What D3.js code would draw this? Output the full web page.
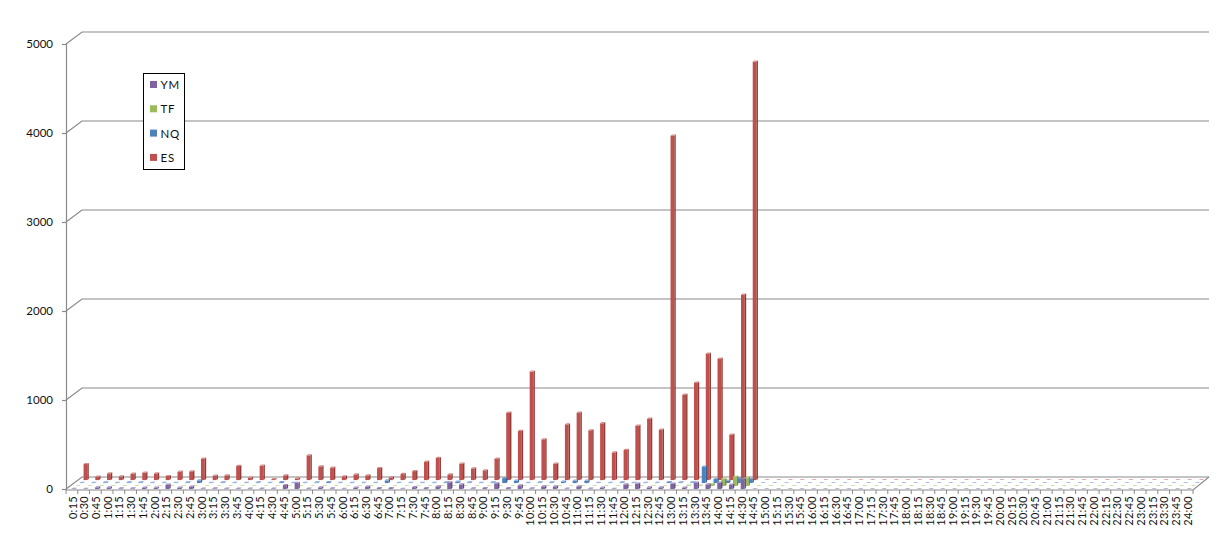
<!DOCTYPE html>
<html><head><meta charset="utf-8">
<script src="https://cdnjs.cloudflare.com/ajax/libs/d3/7.8.5/d3.min.js"></script>
<style>html,body{margin:0;padding:0;background:#fff}svg{display:block}text{font-family:Lato,"Open Sans",sans-serif;fill:#111}</style>
</head><body><svg id="c" width="1230" height="546"></svg>
<script>
const categories=["0:15","0:30","0:45","1:00","1:15","1:30","1:45","2:00","2:15","2:30","2:45","3:00","3:15","3:30","3:45","4:00","4:15","4:30","4:45","5:00","5:15","5:30","5:45","6:00","6:15","6:30","6:45","7:00","7:15","7:30","7:45","8:00","8:15","8:30","8:45","9:00","9:15","9:30","9:45","10:00","10:15","10:30","10:45","11:00","11:15","11:30","11:45","12:00","12:15","12:30","12:45","13:00","13:15","13:30","13:45","14:00","14:15","14:30","14:45","15:00","15:15","15:30","15:45","16:00","16:15","16:30","16:45","17:00","17:15","17:30","17:45","18:00","18:15","18:30","18:45","19:00","19:15","19:30","19:45","20:00","20:15","20:30","20:45","21:00","21:15","21:30","21:45","22:00","22:15","22:30","22:45","23:00","23:15","23:30","23:45","24:00"];
const ES=[180,38,75,41,71,83,75,45,94,98,240,49,53,158,26,161,11,53,19,278,154,139,41,64,53,135,30,68,101,206,248,64,184,131,109,240,758,551,1219,458,184,626,758,559,638,311,338,611,690,566,3870,960,1095,1421,1365,511,2084,4702,0,0,0,0,0,0,0,0,0,0,0,0,0,0,0,0,0,0,0,0,0,0,0,0,0,0,0,0,0,0,0,0,0,0,0,0,0,0];
const NQ=[3,3,7,3,7,7,3,3,3,7,30,3,7,3,3,7,3,11,3,3,7,11,3,3,3,3,30,3,3,3,3,7,15,7,3,7,56,26,3,7,7,15,26,26,3,3,7,3,3,3,11,7,7,185,45,26,56,45,0,0,0,0,0,0,0,0,0,0,0,0,0,0,0,0,0,0,0,0,0,0,0,0,0,0,0,0,0,0,0,0,0,0,0,0,0,0];
const TF=[0,0,0,0,0,0,0,0,0,0,0,0,0,0,0,0,0,0,0,0,0,0,0,0,0,0,0,0,0,0,0,0,0,0,0,0,0,0,0,0,0,0,0,0,0,0,0,0,0,0,0,0,5,5,22,79,105,94,0,0,0,0,0,0,0,0,0,0,0,0,0,0,0,0,0,0,0,0,0,0,0,0,0,0,0,0,0,0,0,0,0,0,0,0,0,0];
const YM=[3,3,19,19,7,7,15,15,49,15,26,5,7,5,5,5,5,5,45,70,5,19,7,3,15,26,11,11,3,22,11,30,75,52,7,11,64,11,41,7,30,30,4,30,4,15,3,52,60,19,19,60,15,71,52,71,49,110,0,0,0,0,0,0,0,0,0,0,0,0,0,0,0,0,0,0,0,0,0,0,0,0,0,0,0,0,0,0,0,0,0,0,0,0,0,0];
const seriesNames=["YM","TF","NQ","ES"];
const seriesValues=[YM,TF,NQ,ES];
const seriesColors=["#8064A2","#9BBB59","#4F81BD","#C0504D"];
const sideColors=["#5F4A7A","#748C42","#3A608D","#8F3B39"];
const topColors=["#A08AC0","#BCD484","#7FA5D6","#D58B88"];
const yTicks=[0,1000,2000,3000,4000,5000];

const svg=d3.select("#c");
const L=66,R=1193,Top=44,Bot=489,DX=16,DY=12;
const AX="#8a8a8a";
const x=d3.scaleBand().domain(categories).range([L,R]);
const y=d3.scaleLinear().domain([0,5000]).range([Bot,Top]);

svg.append("g").selectAll("path").data(yTicks).join("path")
 .attr("fill","none").attr("stroke",AX).attr("stroke-width",1.2)
 .attr("d",t=>`M${L},${y(t)}L${L+DX},${y(t)-DY}L${R+DX},${y(t)-DY}`);
svg.append("path").attr("fill","none").attr("stroke",AX).attr("stroke-width",1.2)
 .attr("d",`M${L},${Bot+1}L${R},${Bot+1}L${R+DX},${Bot-DY}`);

const d=1.4,dh=1.2,w=3.8;
[3,2,1,0].forEach(s=>{
 const off=(s+.5)/4;
 const g=svg.append("g");
 const pts=categories.map((c,i)=>({c,v:seriesValues[s][i]}));
 const cx=p=>x(p.c)+x.bandwidth()/2+off*DX-(w+d)/2+.3;
 const by=off*DY-1.6;
 const sel=g.selectAll("g").data(pts).join("g");
 const tp=p=>y(p.v)-by;
 const bs=()=>y(0)-by;
 sel.filter(p=>p.v>0).append("rect").attr("x",cx).attr("y",tp).attr("width",w).attr("height",p=>Math.max(0,bs()-tp(p))).attr("fill",seriesColors[s]);
 sel.filter(p=>p.v>0).append("path").attr("fill",sideColors[s])
  .attr("d",p=>`M${cx(p)+w},${tp(p)}l${d},${-dh}V${bs()-dh}L${cx(p)+w},${bs()}Z`);
 sel.append("path").attr("fill",p=>p.v>0?topColors[s]:seriesColors[s]).attr("opacity",p=>p.v>0?1:.5)
  .attr("d",p=>`M${cx(p)},${tp(p)}l${d},${-dh}h${w}l${-d},${dh}Z`);
});

const ya=svg.append("g").attr("transform",`translate(${L},0)`)
 .call(d3.axisLeft(y).tickValues(yTicks).tickSize(4).tickPadding(9).tickFormat(d3.format("d")));
ya.selectAll("text").attr("font-size",11.5).attr("style","font-family:Lato;fill:#111");
ya.selectAll("line,path").attr("stroke",AX).attr("stroke-width",1.2);
const xa=svg.append("g").attr("transform",`translate(0,${Bot+1})`)
 .call(d3.axisBottom(x).tickSize(0).tickFormat(t=>t));
xa.select("path").remove();
xa.selectAll("text").attr("font-size",11).attr("text-anchor","end").attr("style","font-family:Lato;fill:#111;letter-spacing:.3px")
 .attr("transform","rotate(-90)").attr("x",-6).attr("y",1).attr("dy","0.33em");
svg.append("g").attr("stroke",AX).selectAll("line").data(d3.range(categories.length+1)).join("line")
 .attr("x1",i=>L+i*x.step()).attr("x2",i=>L+i*x.step()).attr("y1",Bot+1).attr("y2",Bot+5);

const lg=svg.append("g").attr("transform","translate(143.5,73.5)");
lg.append("rect").attr("width",41).attr("height",96).attr("fill","#fff").attr("stroke","#000");
const it=lg.selectAll("g").data(seriesNames).join("g").attr("transform",(n,i)=>`translate(6.5,${7.5+i*24.3})`);
it.append("rect").attr("width",7).attr("height",7).attr("fill",(n,i)=>seriesColors[i]);
it.append("text").text(n=>n).attr("x",10.5).attr("y",8).attr("font-size",11.5).attr("letter-spacing",".8px");
</script></body></html>
